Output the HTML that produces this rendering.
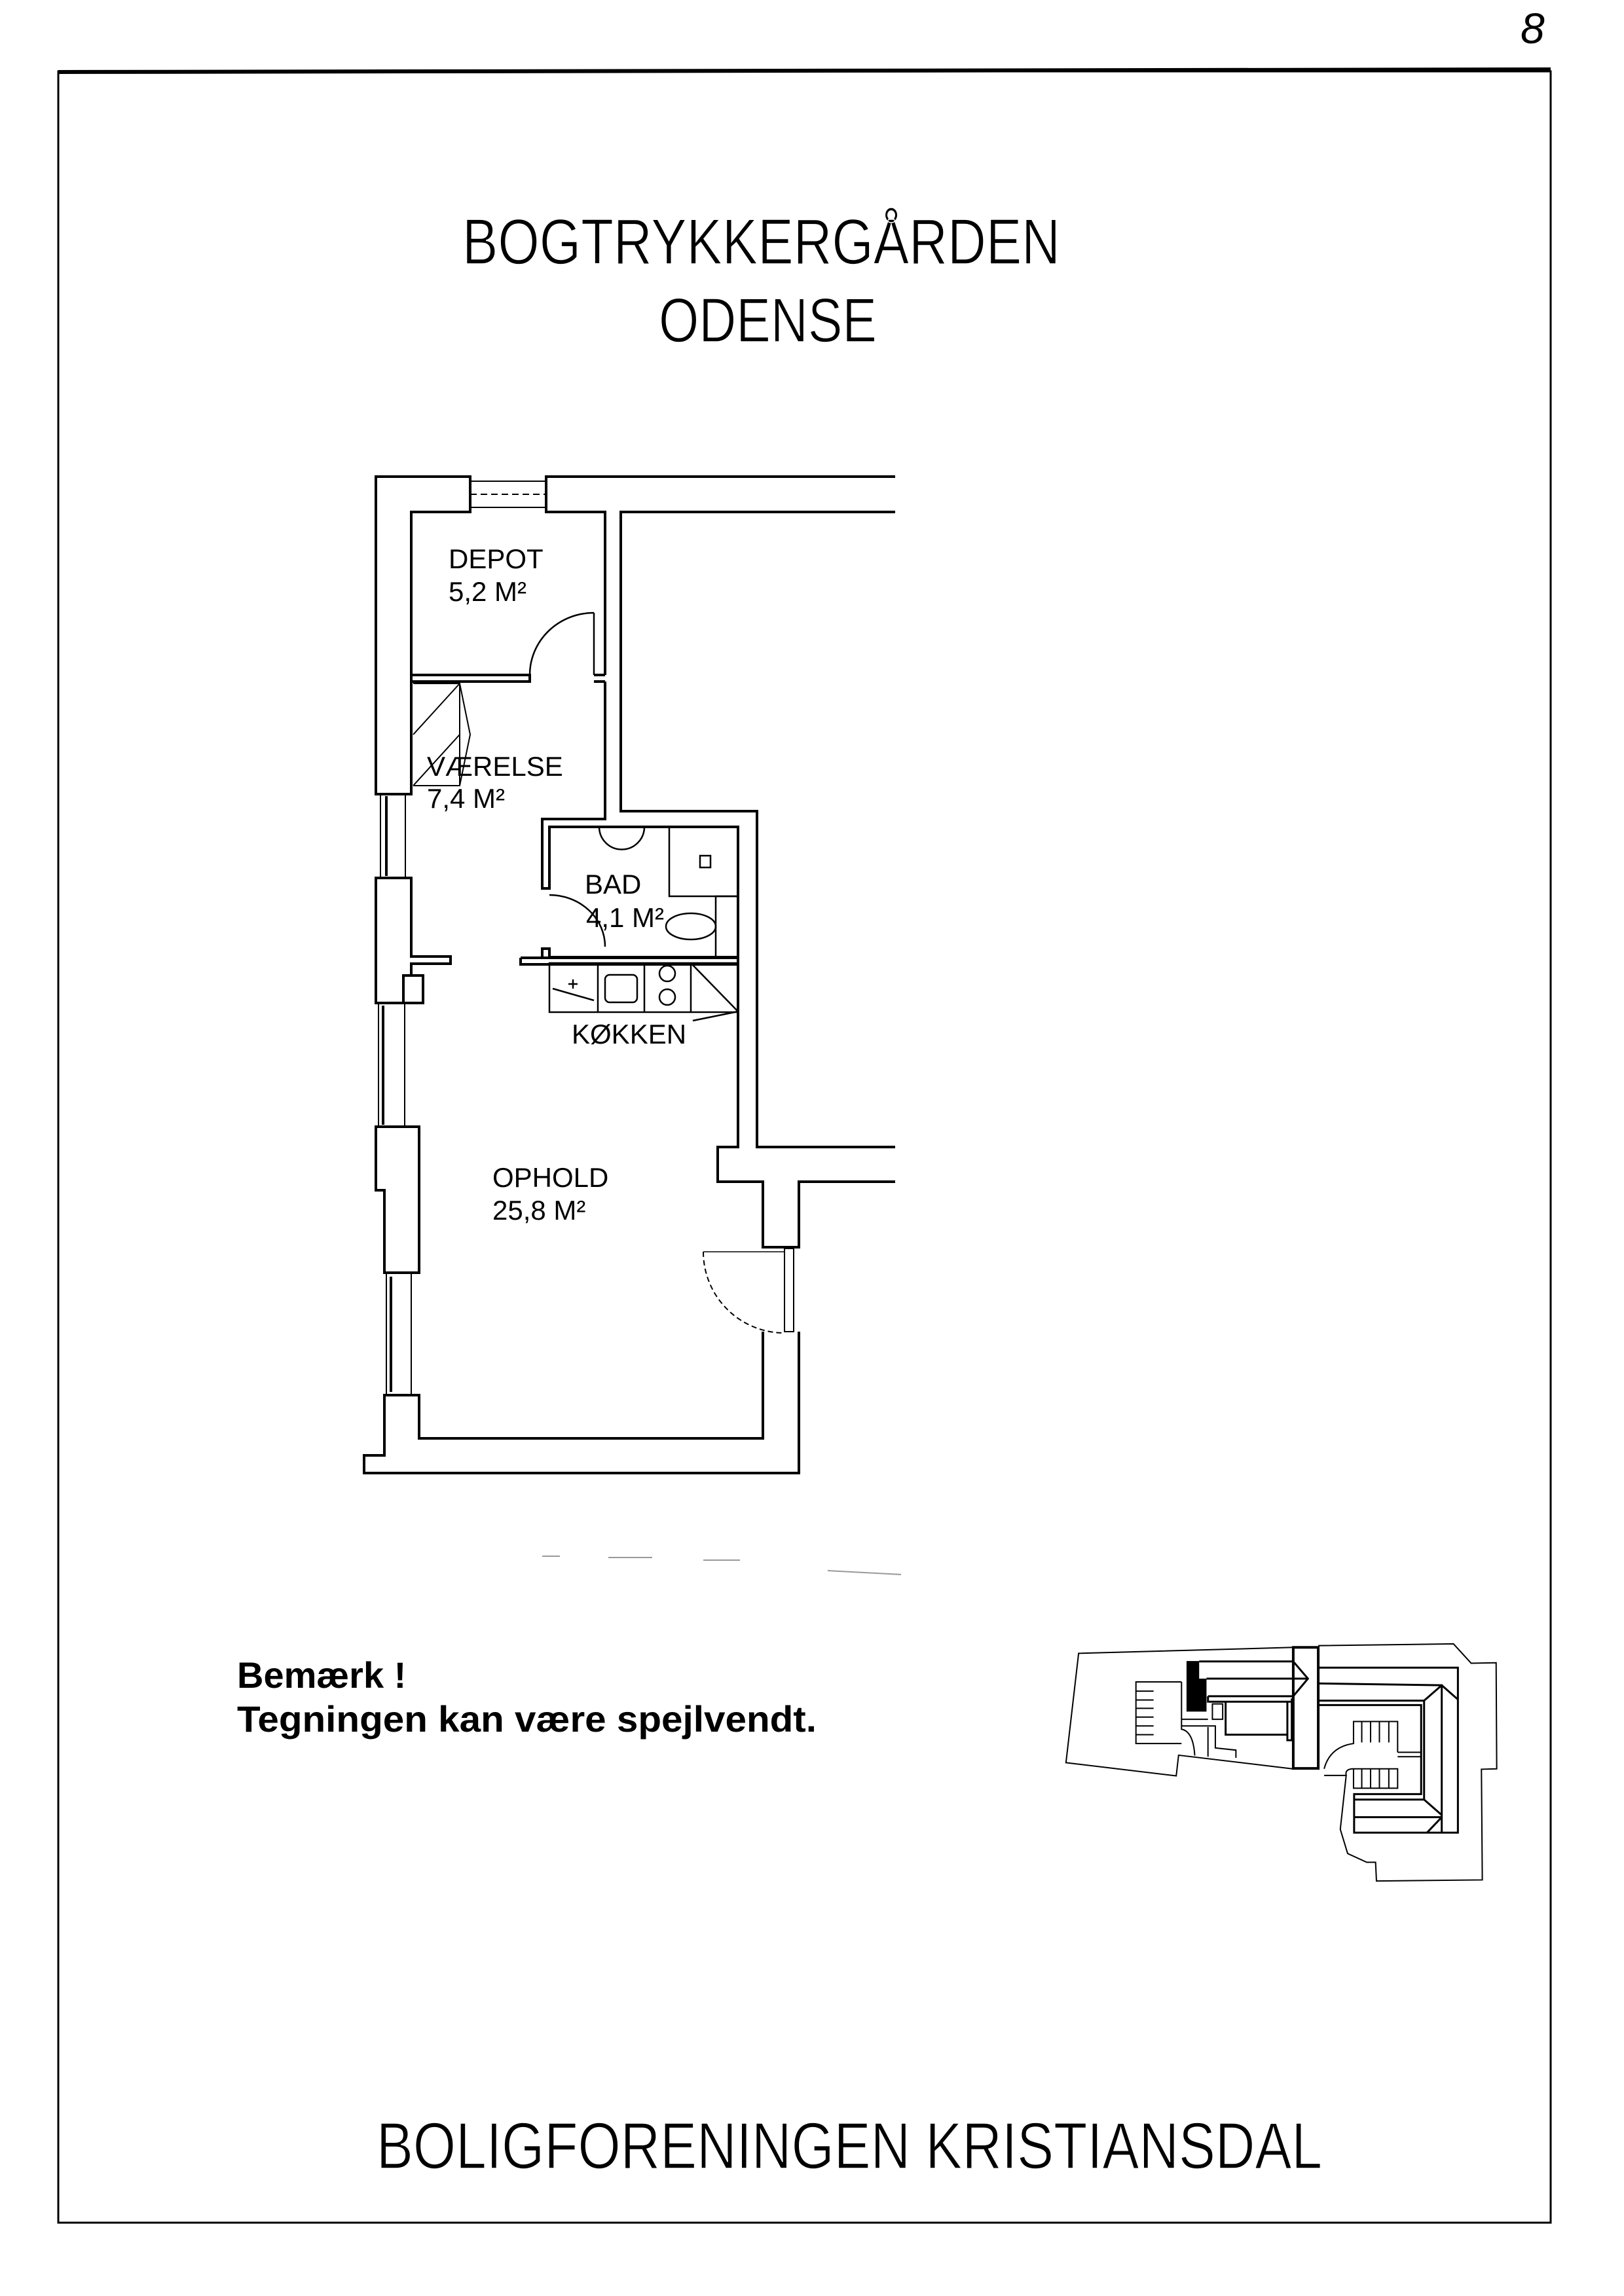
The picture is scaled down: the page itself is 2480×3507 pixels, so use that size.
<!DOCTYPE html>
<html><head><meta charset="utf-8"><style>
html,body{margin:0;padding:0;background:#fff}
svg{display:block}
text{font-family:"Liberation Sans",sans-serif;fill:#000}
</style></head><body>
<svg width="2480" height="3507" viewBox="0 0 2480 3507" xmlns="http://www.w3.org/2000/svg">
<rect width="2480" height="3507" fill="#fff"/>
<text x="2322" y="66" font-size="66" font-style="italic" font-family="Liberation Serif">8</text>
<rect x="89" y="109" width="2279" height="3286" fill="none" stroke="#000" stroke-width="3"/>
<line x1="89" y1="110" x2="2368" y2="106" stroke="#000" stroke-width="6"/>

<text x="706" y="403" font-size="98" textLength="913" lengthAdjust="spacingAndGlyphs" stroke="#fff" stroke-width="1.5">BOGTRYKKERGÅRDEN</text>
<text x="1006" y="522" font-size="96" textLength="333" lengthAdjust="spacingAndGlyphs" stroke="#fff" stroke-width="1.5">ODENSE</text>

<g fill="none" stroke="#000" stroke-width="4" stroke-linejoin="miter">
<path d="M574,1213 L574,728 L718,728 L718,782 L628,782 L628,1213 Z"/>
<rect x="718" y="735" width="116" height="40" stroke-width="2"/>
<line x1="718" y1="755" x2="834" y2="755" stroke-width="2" stroke-dasharray="10,6"/>
<path d="M1367,728 L834,728 L834,782 L924,782 L924,1031"/>
<path d="M1367,782 L948,782 L948,1239 L1156,1239 L1156,1752 L1367,1752"/>
<path d="M924,1041 L924,1251 L828,1251 L828,1357 L839,1357 L839,1263 L1127,1263 L1127,1462 L839,1462 L839,1449 L828,1449 L828,1463"/>
<path d="M628,1031 L809,1031 L809,1041 L628,1041"/>
<path d="M907,1031 L924,1031 M907,1041 L924,1041"/>
<line x1="907" y1="1031" x2="907" y2="936" stroke-width="2.5"/>
<path d="M809,1031 A98,95 0 0 1 907,936" stroke-width="2.5"/>
<g stroke-width="2">
<path d="M631,1044 L702,1044 L702,1200 L631,1200"/>
<path d="M631,1122 L702,1044 M631,1200 L702,1122 M702,1044 L718,1122 L702,1200"/>
<line x1="702" y1="1044" x2="702" y2="1200" stroke-dasharray="4,4"/>
</g>
<rect x="581" y="1213" width="38" height="128" stroke-width="2"/>
<line x1="590" y1="1216" x2="590" y2="1338" stroke-width="4"/>
<path d="M574,1341 L628,1341 L628,1461 L688,1461 L688,1472 L628,1472 L628,1490 L616,1490 L616,1532 L574,1532 Z"/>
<rect x="616" y="1490" width="30" height="42"/>
<rect x="578" y="1532" width="40" height="189" stroke-width="2"/>
<line x1="585" y1="1536" x2="585" y2="1718" stroke-width="4"/>
<path d="M574,1721 L640,1721 L640,1944 L587,1944 L587,1818 L574,1818 Z"/>
<rect x="590" y="1944" width="38" height="187" stroke-width="2"/>
<line x1="597" y1="1950" x2="597" y2="2126" stroke-width="4"/>
<path d="M1220,2034 L1220,2250 L556,2250 L556,2223 L587,2223 L587,2131 L640,2131 L640,2197 L1165,2197 L1165,2034"/>
<path d="M1127,1462 L1127,1752 L1096,1752 L1096,1805 L1165,1805 L1165,1905 L1220,1905 L1220,1805 L1367,1805"/>
<rect x="1198" y="1907" width="14" height="127" stroke-width="2"/>
<line x1="1074" y1="1912" x2="1198" y2="1912" stroke-width="1.5"/>
<path d="M1074,1912 A124,124 0 0 0 1198,2036" stroke-width="2" stroke-dasharray="8,5"/>
<path d="M795,1463 L1127,1463 M795,1463 L795,1473 L1127,1473"/>
<g stroke-width="2.5">
<path d="M915,1263 A34,34 0 0 0 984,1263"/>
<rect x="1022" y="1263" width="105" height="106"/>
<rect x="1069" y="1307" width="16" height="18"/>
<ellipse cx="1055" cy="1415" rx="38" ry="20"/>
<rect x="1093" y="1369" width="34" height="93"/>
<path d="M839,1367 A85,79 0 0 1 924,1446"/>
</g>
<g stroke-width="2.5">
<rect x="839" y="1471" width="288" height="75"/>
<path d="M913,1471 L913,1546 M984,1471 L984,1546 M1055,1471 L1055,1546"/>
<rect x="924" y="1489" width="49" height="42" rx="7"/>
<circle cx="1019" cy="1487" r="12"/><circle cx="1019" cy="1523" r="12"/>
<path d="M1055,1471 L1127,1545 M1058,1559 L1127,1545 M844,1510 L907,1528"/>
<path d="M868,1503 L882,1503 M875,1496 L875,1510"/>
</g>
</g>
<g stroke="#999" stroke-width="2" fill="none">
<path d="M828,2377 L855,2377 M929,2379 L996,2379 M1074,2383 L1130,2383 M1264,2399 L1376,2405"/>
</g>
<g font-size="42">
<text x="685" y="868">DEPOT</text>
<text x="685" y="918">5,2 M²</text>
<text x="652" y="1185">VÆRELSE</text>
<text x="652" y="1234">7,4 M²</text>
<text x="893" y="1365">BAD</text>
<text x="895" y="1416">4,1 M²</text>
<text x="873" y="1594">KØKKEN</text>
<text x="752" y="1813">OPHOLD</text>
<text x="752" y="1863">25,8 M²</text>
</g>

<text x="362" y="2578" font-size="56" font-weight="bold">Bemærk !</text>
<text x="362" y="2645" font-size="56" font-weight="bold" textLength="885" lengthAdjust="spacingAndGlyphs">Tegningen kan være spejlvendt.</text>

<g transform="translate(1600,2480) scale(0.449,0.336)" fill="none" stroke="#000" stroke-width="2">
<path vector-effect="non-scaling-stroke" d="M835,108 L105,135 L62,632 L437,692 L445,598 L832,660"/>
<path vector-effect="non-scaling-stroke" d="M920,100 L1380,92 L1440,180 L1525,178 L1527,660 L1475,662 L1478,1165 L1118,1170 L1115,1085 L1085,1085 L1020,1045 L995,935 L1015,690 L940,690"/>
<rect vector-effect="non-scaling-stroke" x="835" y="108" width="85" height="550" stroke-width="4"/>
<path vector-effect="non-scaling-stroke" stroke-width="3" d="M515,172 L835,172 L885,250 L835,330 L545,330 M540,250 L885,250"/>
<path fill="#000" stroke="none" d="M472,170 L515,170 L515,250 L540,250 L540,400 L472,400 Z"/>
<path vector-effect="non-scaling-stroke" stroke-width="3" d="M545,330 L545,355 L835,355 M605,355 L605,505 L815,505 L815,355 M815,505 L815,530 L830,530 L830,340"/>
<path vector-effect="non-scaling-stroke" d="M455,265 L300,265 L300,545 L455,545 M300,307 L360,307 M300,347 L360,347 M300,385 L360,385 M300,425 L360,425 M300,465 L360,465 M300,505 L360,505"/>
<path vector-effect="non-scaling-stroke" d="M455,265 L455,480 Q495,490 500,600 M455,435 L545,435 M455,465 L570,465 L570,565 L640,575 L640,610 M545,470 Q545,520 545,605 M560,365 L595,365 L595,435 L560,435 Z"/>
<path vector-effect="non-scaling-stroke" stroke-width="3" d="M922,200 L1395,200 L1395,950 L1042,950 L1042,775 L1270,775 L1270,370 L922,370 M922,272 L1340,280 L1340,950 M922,350 L1280,350 L1280,800 L1042,800 M1280,350 L1340,280 M1280,800 L1340,870 M1340,280 L1395,345 M1340,880 L1290,950 M1042,880 L1340,880"/>
<path vector-effect="non-scaling-stroke" d="M1190,585 L1190,445 L1040,445 L1040,545 Q960,560 940,660 M1068,445 L1068,540 M1098,445 L1098,540 M1128,445 L1128,540 M1160,445 L1160,540 M1190,585 L1270,585 M1190,605 L1270,605 M1040,660 L1190,660 L1190,748 L1040,748 L1040,660 Q1010,660 1015,690 M1068,660 L1068,748 M1098,660 L1098,748 M1128,660 L1128,748 M1160,660 L1160,748"/>
</g>

<text x="575" y="3312" font-size="100" textLength="1444" lengthAdjust="spacingAndGlyphs" stroke="#fff" stroke-width="1.5">BOLIGFORENINGEN  KRISTIANSDAL</text>
</svg>
</body></html>
